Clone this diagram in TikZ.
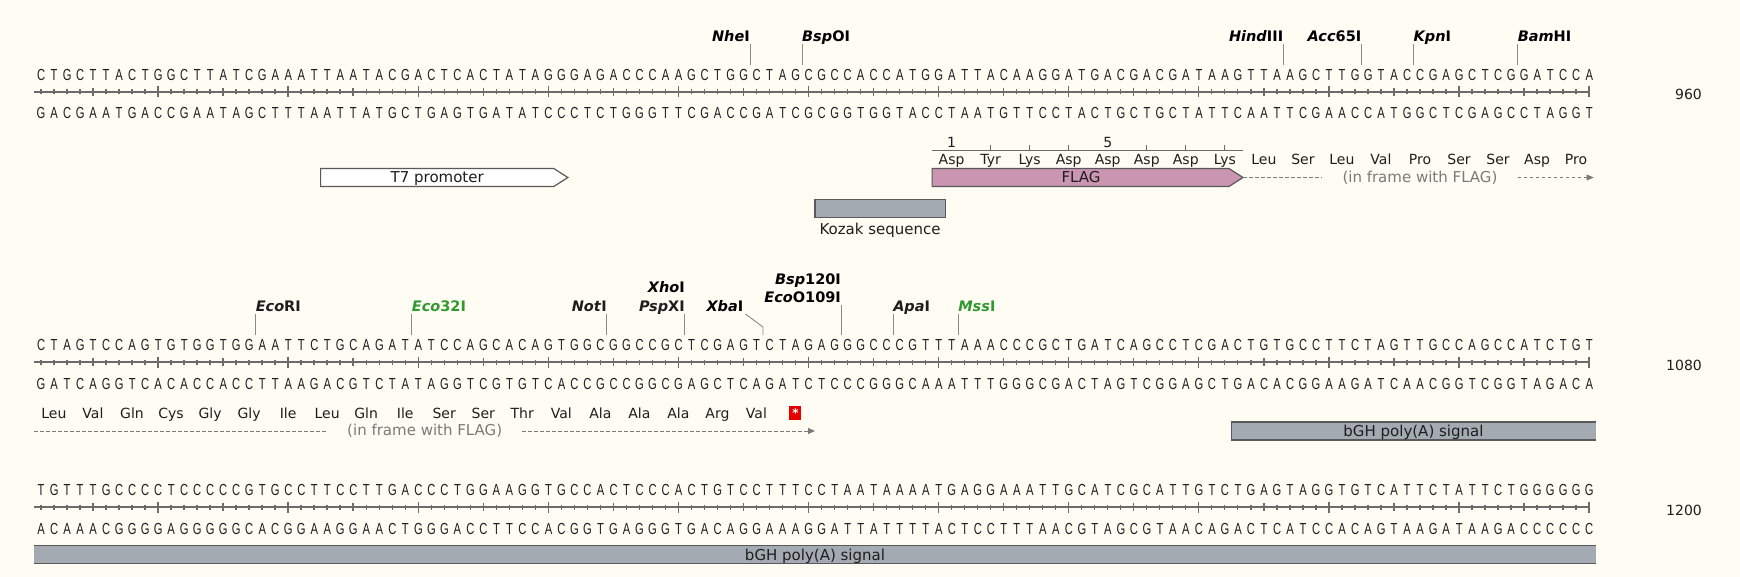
\documentclass[tikz,border=0pt]{standalone}
\usepackage{fontspec}
\setmainfont{DejaVu Sans}
\newfontfamily\seqfont{Liberation Sans}
\usetikzlibrary{arrows.meta}

\definecolor{paper}{HTML}{FFFCF4}
\definecolor{featgray}{HTML}{A4AAB1}
\definecolor{flagpink}{HTML}{C995B0}
\definecolor{edge}{HTML}{595959}
\definecolor{rulergray}{HTML}{6B6B6B}
\definecolor{siteline}{HTML}{8C8C8C}
\definecolor{sitegreen}{HTML}{2F9A2F}
\definecolor{frametext}{HTML}{7A7A7A}
\definecolor{ink}{HTML}{1E1E1E}

\newcommand\basew{13.01}
\newcommand\seqx{34.4}
% one letter per base slot
\newcommand\baseslot[1]{\makebox[13.01pt]{\scalebox{0.7}[1]{#1}}}
\def\bases#1{\expandafter\basesi#1\relax}
\def\basesi#1{\ifx#1\relax\else\baseslot{#1}\expandafter\basesi\fi}
\def\cbases#1{\expandafter\cbasesi#1\relax}
\def\cbasesi#1{\ifx#1\relax\else\baseslot{\ifx#1AT\else\ifx#1TA\else\ifx#1GC\else G\fi\fi\fi}\expandafter\cbasesi\fi}

\newcommand\rowA{CTGCTTACTGGCTTATCGAAATTAATACGACTCACTATAGGGAGACCCAAGCTGGCTAGCGCCACCATGGATTACAAGGATGACGACGATAAGTTAAGCTTGGTACCGAGCTCGGATCCA}
\newcommand\rowB{CTAGTCCAGTGTGGTGGAATTCTGCAGATATCCAGCACAGTGGCGGCCGCTCGAGTCTAGAGGGCCCGTTTAAACCCGCTGATCAGCCTCGACTGTGCCTTCTAGTTGCCAGCCATCTGT}
\newcommand\rowC{TGTTTGCCCCTCCCCCGTGCCTTCCTTGACCCTGGAAGGTGCCACTCCCACTGTCCTTTCCTAATAAAATGAGGAAATTGCATCGCATTGTCTGAGTAGGTGTCATTCTATTCTGGGGGG}

\tikzset{
  strand/.style={font=\seqfont\fontsize{16}{18}\selectfont, inner sep=0pt, text=ink},
  ruler/.style={draw=rulergray, line width=1.8pt},
  tick/.style={draw=rulergray, line width=1.3pt},
  enz/.style={font=\bfseries\fontsize{14.5}{16}\selectfont, inner sep=0pt},
  cutline/.style={draw=siteline, line width=0.9pt},
  aa/.style={font=\fontsize{14}{16}\selectfont, inner sep=0pt, text=ink, anchor=base},
  feat/.style={draw=edge, line width=1.2pt},
  featlabel/.style={font=\fontsize{15}{17}\selectfont, inner sep=0pt, text=ink, anchor=base},
  inframe/.style={font=\fontsize{15}{17}\selectfont, text=frametext, inner xsep=20pt, inner ysep=0pt},
  frameline/.style={draw=frametext, line width=1pt, dash pattern=on 3.5pt off 2.5pt},
  stopbox/.style={fill=red!90!black, text=white, minimum width=12pt, minimum height=14pt, inner sep=0pt, font=\bfseries\fontsize{12}{12}\selectfont},
  rowno/.style={font=\fontsize{14}{16}\selectfont, inner sep=0pt, anchor=base east, text=ink}
}

\begin{document}
\begin{tikzpicture}[x=1pt,y=-1pt]
\useasboundingbox (0,0) rectangle (1740,577);
\fill[paper] (0,0) rectangle (1740,577);

% sequence rows
\node[strand, anchor=base west] (topA) at (\seqx,80.5) {\bases{\rowA}};
\node[strand, anchor=base west] (botA) at (\seqx,119) {\cbases{\rowA}};
\node[strand, anchor=base west] (topB) at (\seqx,350.5) {\bases{\rowB}};
\node[strand, anchor=base west] (botB) at (\seqx,389) {\cbases{\rowB}};
\node[strand, anchor=base west] (topC) at (\seqx,495.5) {\bases{\rowC}};
\node[strand, anchor=base west] (botC) at (\seqx,534) {\cbases{\rowC}};

\foreach \r/\num in {92/960,362/1080,507/1200}
{
	\draw[ruler] (\seqx,\r) -- ({\seqx+119.5*\basew},\r);
	\foreach \i in {1,...,120}
		\draw[tick] ({\seqx+(\i-0.5)*\basew},{\r-2.5}) -- ++(0,5);
	\foreach \i in {5,15,...,115}
		\draw[tick] ({\seqx+(\i-0.5)*\basew},{\r-4}) -- ++(0,8);
	\foreach \i in {10,20,...,120}
		\draw[tick] ({\seqx+(\i-0.5)*\basew},{\r-5.5}) -- ++(0,11);
	\node[rowno] (no\num) at (1702,{\r+8}) {\num};
}

% enzyme sites, row 1
\foreach \k/\an/\lab [count=\n] in {55/east/\textit{Nhe}I, 59/west/\textit{Bsp}OI, 96/east/\textit{Hind}III, 102/east/\textit{Acc}65I, 106/west/\textit{Kpn}I, 114/west/\textit{Bam}HI}
{
	\node[enz, anchor=base \an] (siteA\n) at ({\seqx+\k*\basew},41.5) {\lab};
	\coordinate (upA\n) at ({\seqx+\k*\basew},44);
	\coordinate (cutA\n) at ({\seqx+\k*\basew},65);
	\draw[cutline] (upA\n) -- (cutA\n);
}

% enzyme sites, row 2
\foreach \k/\an/\col/\lab [count=\n] in {17/west/ink/\textit{Eco}RI, 29/west/sitegreen/\textit{Eco}32I, 44/east/ink/\textit{Not}I, 50/east/ink/\textit{Psp}XI, 66/west/ink/\textit{Apa}I, 71/west/sitegreen/\textit{Mss}I}
{
	\node[enz, anchor=base \an, text=\col] (siteB\n) at ({\seqx+\k*\basew},311.5) {\lab};
	\coordinate (upB\n) at ({\seqx+\k*\basew},314);
	\coordinate (cutB\n) at ({\seqx+\k*\basew},335);
	\draw[cutline] (upB\n) -- (cutB\n);
}
\node[enz, anchor=base east] (xho) at ({\seqx+50*\basew},293) {\textit{Xho}I};
\node[enz, anchor=base east] (bsp) at ({\seqx+62*\basew},284.5) {\textit{Bsp}120I};
\node[enz, anchor=base east] (ecoo) at ({\seqx+62*\basew},303) {\textit{Eco}O109I};
\coordinate (upEcoo) at ({\seqx+62*\basew},305.5);
\coordinate (cutEcoo) at ({\seqx+62*\basew},335);
\draw[cutline] (upEcoo) -- (cutEcoo);
\node[enz, anchor=base east] (xba) at ({\seqx+56*\basew-19.5},311.5) {\textit{Xba}I};
\coordinate (upXba) at ({\seqx+56*\basew-17.5},314);
\coordinate (bendXba) at ({\seqx+56*\basew},327);
\coordinate (cutXba) at ({\seqx+56*\basew},335);
\draw[cutline] (upXba) -- (bendXba) -- (cutXba);

% FLAG numbering
\coordinate (numL) at ({\seqx+69*\basew},150);
\coordinate (numR) at (1243,150);
\draw[draw=rulergray, line width=0.9pt] (numL) -- (numR);
\foreach \k in {1,2,3,5,6,7}
	\draw[draw=rulergray, line width=0.9pt] ({\seqx+(70.5+3*\k)*\basew},150) -- ++(0,-5);
\node[aa] (numOne) at ({\seqx+70.5*\basew},147.3) {1};
\node[aa] (numFive) at ({\seqx+82.5*\basew},147.3) {5};

% amino acids
\foreach \a [count=\k from 0] in {Asp,Tyr,Lys,Asp,Asp,Asp,Asp,Lys,Leu,Ser,Leu,Val,Pro,Ser,Ser,Asp,Pro}
	\node[aa] (aaA\k) at ({\seqx+(70.5+3*\k)*\basew},165) {\a};
\foreach \a [count=\k from 0] in {Leu,Val,Gln,Cys,Gly,Gly,Ile,Leu,Gln,Ile,Ser,Ser,Thr,Val,Ala,Ala,Ala,Arg,Val}
	\node[aa] (aaB\k) at ({\seqx+(1.5+3*\k)*\basew},418) {\a};
\node[stopbox] (stop) at ({\seqx+58.5*\basew},413) {*};

% features
\draw[feat, fill=white] ({\seqx+22*\basew},168.5) -- ({\seqx+41*\basew-14},168.5) -- ({\seqx+41*\basew},177.5) -- ({\seqx+41*\basew-14},186.5) -- ({\seqx+22*\basew},186.5) -- cycle;
\node[featlabel] (t7) at ({\seqx+31.5*\basew-7},183) {T7 promoter};
\draw[feat, fill=flagpink] ({\seqx+69*\basew},168.5) -- (1229,168.5) -- (1243,177.5) -- (1229,186.5) -- ({\seqx+69*\basew},186.5) -- cycle;
\node[featlabel] (flag) at (1081,183) {FLAG};
\draw[feat, fill=featgray] ({\seqx+60*\basew},199.5) rectangle ({\seqx+70*\basew},217.5);
\node[featlabel] (kozak) at ({\seqx+65*\basew},235) {Kozak sequence};

\fill[featgray] ({\seqx+92*\basew},422) rectangle ({\seqx+120*\basew},440);
\draw[feat] ({\seqx+120*\basew},422) -- ({\seqx+92*\basew},422) -- ({\seqx+92*\basew},440) -- ({\seqx+120*\basew},440);
\node[featlabel] (bghB) at ({\seqx+106*\basew},436.5) {bGH poly(A) signal};
\fill[featgray] (\seqx,545.5) rectangle ({\seqx+120*\basew},563.5);
\draw[feat] (\seqx,545.5) -- ({\seqx+120*\basew},545.5);
\draw[feat] (\seqx,563.5) -- ({\seqx+120*\basew},563.5);
\node[featlabel] (bghC) at ({\seqx+60*\basew},560) {bGH poly(A) signal};

% in frame with FLAG
\coordinate (flagtip) at (1243,177.5);
\node[inframe] (frameA) at ({\seqx+106.5*\basew},177.5) {(in frame with FLAG)};
\coordinate (endA) at ({\seqx+120*\basew-2},177.5);
\draw[frameline] (flagtip) -- (frameA.west);
\draw[frameline, -{Triangle[length=7pt,width=6pt]}] (frameA.east) -- (endA);
\coordinate (startB) at (\seqx,431);
\node[inframe] (frameB) at ({\seqx+30*\basew},431) {(in frame with FLAG)};
\coordinate (endB) at ({\seqx+60*\basew},431);
\draw[frameline] (startB) -- (frameB.west);
\draw[frameline, -{Triangle[length=7pt,width=6pt]}] (frameB.east) -- (endB);
\end{tikzpicture}
\end{document}
